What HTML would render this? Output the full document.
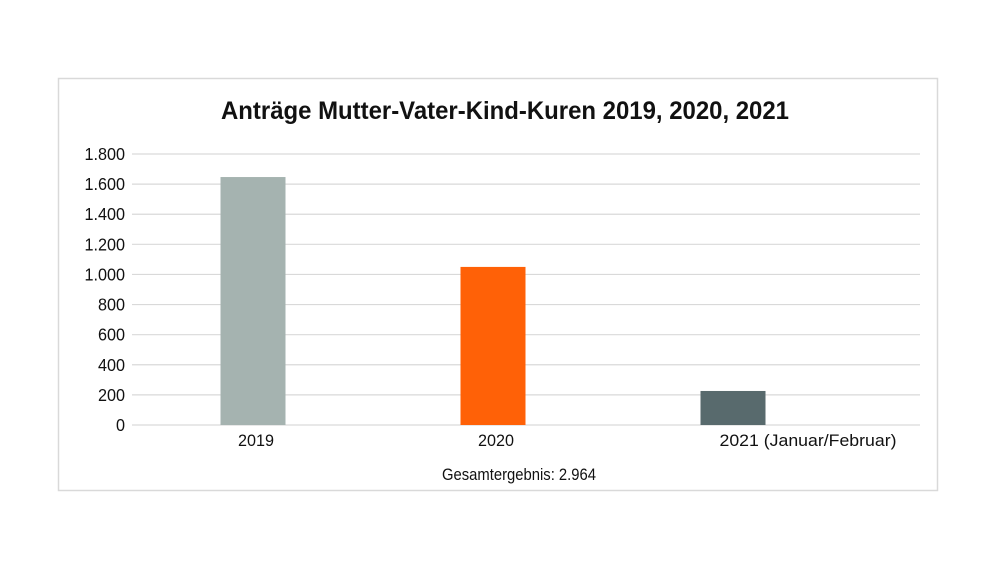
<!DOCTYPE html>
<html><head><meta charset="utf-8"><style>
html,body{margin:0;padding:0;background:#fff;}
svg{display:block;font-family:"Liberation Sans Narrow","Liberation Sans",sans-serif;}
</style></head><body>
<svg id="chart" width="1000" height="566">
<rect x="58.5" y="78.5" width="879" height="412" fill="#fff" stroke="#d9d9d9" stroke-width="1.5"/>
<text x="505" y="119" text-anchor="middle" font-size="25" font-weight="bold" fill="#111" textLength="568" lengthAdjust="spacingAndGlyphs">Anträge Mutter-Vater-Kind-Kuren 2019, 2020, 2021</text>
<g id="grid"></g><g id="bars"></g><g id="labels"></g>
<text x="519" y="480" text-anchor="middle" font-size="17" fill="#111" textLength="154" lengthAdjust="spacingAndGlyphs">Gesamtergebnis: 2.964</text>
</svg>
<script>
const categories = ["2019","2020","2021 (Januar/Februar)"];
const values = [1647, 1050, 226];
const colors = ["#a5b3b0","#ff6107","#586a6d"];
const ticks = [0,200,400,600,800,1000,1200,1400,1600,1800];
const tickLabels = ["0","200","400","600","800","1.000","1.200","1.400","1.600","1.800"];
const NS="http://www.w3.org/2000/svg";
const x0=132,x1=920,yBase=425,yTop=154,maxV=1800;
const y=v=>yBase-(v/maxV)*(yBase-yTop);
const xc=i=>253+240*i;
const g=document.getElementById('grid'),b=document.getElementById('bars'),l=document.getElementById('labels');
ticks.forEach((t,i)=>{
 const ln=document.createElementNS(NS,'line');
 ln.setAttribute('x1',x0);ln.setAttribute('x2',x1);ln.setAttribute('y1',y(t));ln.setAttribute('y2',y(t));
 ln.setAttribute('stroke','#d9d9d9');ln.setAttribute('stroke-width','1.2');
 
 
 g.appendChild(ln);
 const tx=document.createElementNS(NS,'text');
 tx.setAttribute('x',125);tx.setAttribute('y',y(t)+6);tx.setAttribute('text-anchor','end');
 tx.setAttribute('font-size','18');tx.setAttribute('fill','#111');tx.textContent=tickLabels[i];
 tx.setAttribute('transform','translate('+(125*0.1)+',0) scale(0.9,1)');
 tx.setAttribute('x',125/0.9-125*0.1/0.9);
 
 
 l.appendChild(tx);
});
const bw=65;
const labelW=[36,36,177];
categories.forEach((c,i)=>{
 const r=document.createElementNS(NS,'rect');
 r.setAttribute('x',xc(i)-bw/2);r.setAttribute('y',y(values[i]));r.setAttribute('width',bw);
 r.setAttribute('height',yBase-y(values[i]));r.setAttribute('fill',colors[i]);
 
 
 b.appendChild(r);
 const tx=document.createElementNS(NS,'text');
 tx.setAttribute('x',i===2?808:xc(i)+3);tx.setAttribute('y',446);tx.setAttribute('text-anchor','middle');
 tx.setAttribute('font-size','17');tx.setAttribute('fill','#111');tx.textContent=c;
 tx.setAttribute('textLength',labelW[i]);tx.setAttribute('lengthAdjust','spacingAndGlyphs');
 
 
 l.appendChild(tx);
});
</script>
</body></html>
